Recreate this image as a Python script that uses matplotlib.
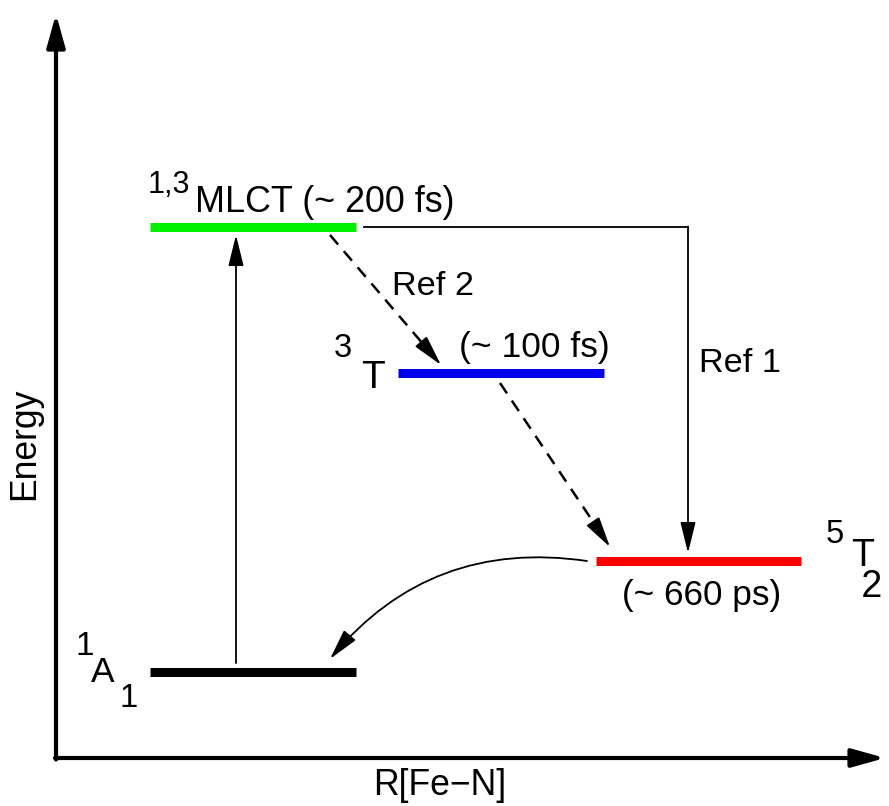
import matplotlib.pyplot as plt

plt.rcParams['font.family'] = ['Liberation Sans', 'DejaVu Sans']

# energy levels (arbitrary units)
states = ['1A1', '1,3MLCT', '3T', '5T2']
energy = [134, 579, 433, 245]
r_left = [150, 150, 398, 596]
r_right = [356, 356, 604, 801]
level_colors = ['black', '#00f000', '#0000ee', '#ff0000']

# lifetimes
lifetimes = ['(~ 200 fs)', '(~ 100 fs)', '(~ 660 ps)']

fig = plt.figure(figsize=(8.89, 8.06), dpi=100)
ax = fig.add_axes([0, 0, 1, 1])
ax.set_xlim(0, 889)
ax.set_ylim(0, 806)
ax.axis('off')

# axes with arrows
axis_arrow = dict(arrowstyle='-|>,head_length=20,head_width=5.6', mutation_scale=1,
                  lw=3, color='k', shrinkA=0, shrinkB=0)
ax.annotate('', xy=(56, 792), xytext=(56, 46.5), arrowprops=axis_arrow)
ax.annotate('', xy=(885, 48), xytext=(55, 48), arrowprops=axis_arrow)

# levels
for i in range(len(states)):
    ax.plot([r_left[i], r_right[i]], [energy[i], energy[i]], color=level_colors[i],
            lw=6.5, solid_capstyle='butt')

thin = dict(arrowstyle='-|>,head_length=19,head_width=4.7', mutation_scale=1,
            lw=1.3, color='k', shrinkA=0, shrinkB=0)

# excitation 1A1 -> MLCT
ax.annotate('', xy=(236, 571), xytext=(236, 143), arrowprops=thin)

# MLCT -> 5T2 (Ref 1)
ax.plot([364, 688], [579, 579], color='k', lw=1.3)
ax.annotate('', xy=(688, 253), xytext=(688, 579.5), arrowprops=thin)


def dashed_arrow(x0, y0, x1, y1):
    # dashed shaft, solid head
    f = 0.86
    xm, ym = x0 + f * (x1 - x0), y0 + f * (y1 - y0)
    ax.plot([x0, xm], [y0, ym], color='k', lw=1.8, dashes=(5, 3.5))
    ax.annotate('', xy=(x1, y1), xytext=(xm, ym), arrowprops=thin)


dashed_arrow(330, 571, 441, 441)
dashed_arrow(500, 423, 610, 259)

# relaxation 5T2 -> 1A1
curve = dict(thin)
curve['connectionstyle'] = 'arc3,rad=0.28'
ax.annotate('', xy=(330, 147), xytext=(587, 245), arrowprops=curve)

# labels
ax.text(148, 613, '1,3', fontsize=22)
ax.text(195, 594, 'MLCT ' + lifetimes[0], fontsize=25.8)
ax.text(392, 511, 'Ref 2', fontsize=24.7)
ax.text(334, 449, '3', fontsize=23.5)
ax.text(361, 418, 'T', fontsize=28)
ax.text(459, 449, lifetimes[1], fontsize=25.5)
ax.text(699, 434, 'Ref 1', fontsize=24.7)
ax.text(826, 263, '5', fontsize=23.5)
# T with its subscript 2 set on a second, indented line (anchor = baseline of "2")
ax.text(851, 209, 'T\n 2', fontsize=27, linespacing=0.81, va='baseline')
ax.text(622, 201, lifetimes[2], fontsize=25.3)
ax.text(76, 151, '1', fontsize=24)
ax.text(91, 124, 'A', fontsize=25.5)
ax.text(119, 99, '1', fontsize=23.5)

ax.text(25, 444 - 82, 'Energy', fontsize=25.6, rotation=90, ha='center', va='center')
ax.text(440, 11, 'R[Fe\u2212N]', fontsize=25.6, ha='center', va='baseline')

fig.savefig('out.png', dpi=100)
